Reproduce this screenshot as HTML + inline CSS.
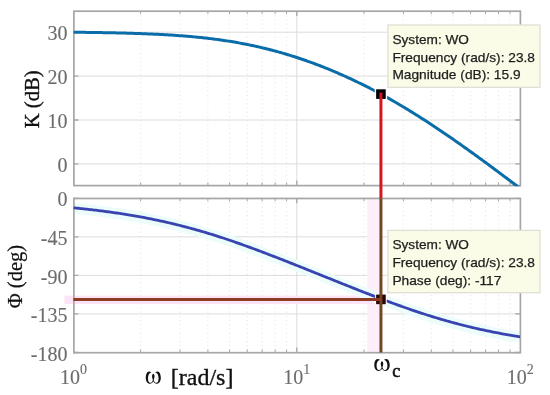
<!DOCTYPE html>
<html><head><meta charset="utf-8"><style>
html,body{margin:0;padding:0;background:#fff;}
body{width:550px;height:395px;overflow:hidden;}
svg{display:block;will-change:transform;}
.sa{font-family:"Liberation Sans",sans-serif;}
.se{font-family:"Liberation Serif",serif;}

</style></head><body>
<svg width="550" height="395" viewBox="0 0 550 395">
<rect width="550" height="395" fill="#fff"/>
<defs><clipPath id="cu"><rect x="73.4" y="11" width="447.8" height="175.3"/></clipPath>
<clipPath id="cl"><rect x="73.4" y="198.3" width="446.8" height="154.2"/></clipPath></defs>
<line x1="140.65" y1="11" x2="140.65" y2="185.4" stroke="#e2e2e2" stroke-width="1" stroke-dasharray="1,3.2"/>
<line x1="179.99" y1="11" x2="179.99" y2="185.4" stroke="#e2e2e2" stroke-width="1" stroke-dasharray="1,3.2"/>
<line x1="207.90" y1="11" x2="207.90" y2="185.4" stroke="#e2e2e2" stroke-width="1" stroke-dasharray="1,3.2"/>
<line x1="229.55" y1="11" x2="229.55" y2="185.4" stroke="#e2e2e2" stroke-width="1" stroke-dasharray="1,3.2"/>
<line x1="247.24" y1="11" x2="247.24" y2="185.4" stroke="#e2e2e2" stroke-width="1" stroke-dasharray="1,3.2"/>
<line x1="262.19" y1="11" x2="262.19" y2="185.4" stroke="#e2e2e2" stroke-width="1" stroke-dasharray="1,3.2"/>
<line x1="275.15" y1="11" x2="275.15" y2="185.4" stroke="#e2e2e2" stroke-width="1" stroke-dasharray="1,3.2"/>
<line x1="286.58" y1="11" x2="286.58" y2="185.4" stroke="#e2e2e2" stroke-width="1" stroke-dasharray="1,3.2"/>
<line x1="364.05" y1="11" x2="364.05" y2="185.4" stroke="#e2e2e2" stroke-width="1" stroke-dasharray="1,3.2"/>
<line x1="403.39" y1="11" x2="403.39" y2="185.4" stroke="#e2e2e2" stroke-width="1" stroke-dasharray="1,3.2"/>
<line x1="431.30" y1="11" x2="431.30" y2="185.4" stroke="#e2e2e2" stroke-width="1" stroke-dasharray="1,3.2"/>
<line x1="452.95" y1="11" x2="452.95" y2="185.4" stroke="#e2e2e2" stroke-width="1" stroke-dasharray="1,3.2"/>
<line x1="470.64" y1="11" x2="470.64" y2="185.4" stroke="#e2e2e2" stroke-width="1" stroke-dasharray="1,3.2"/>
<line x1="485.59" y1="11" x2="485.59" y2="185.4" stroke="#e2e2e2" stroke-width="1" stroke-dasharray="1,3.2"/>
<line x1="498.55" y1="11" x2="498.55" y2="185.4" stroke="#e2e2e2" stroke-width="1" stroke-dasharray="1,3.2"/>
<line x1="509.98" y1="11" x2="509.98" y2="185.4" stroke="#e2e2e2" stroke-width="1" stroke-dasharray="1,3.2"/>
<line x1="296.80" y1="11" x2="296.80" y2="185.4" stroke="#dcdcdc" stroke-width="1"/>
<line x1="73.4" y1="163.90" x2="520.2" y2="163.90" stroke="#dcdcdc" stroke-width="1"/>
<line x1="73.4" y1="120.00" x2="520.2" y2="120.00" stroke="#dcdcdc" stroke-width="1"/>
<line x1="73.4" y1="76.10" x2="520.2" y2="76.10" stroke="#dcdcdc" stroke-width="1"/>
<line x1="73.4" y1="32.20" x2="520.2" y2="32.20" stroke="#dcdcdc" stroke-width="1"/>
<line x1="140.65" y1="198.3" x2="140.65" y2="352.5" stroke="#e2e2e2" stroke-width="1" stroke-dasharray="1,3.2"/>
<line x1="179.99" y1="198.3" x2="179.99" y2="352.5" stroke="#e2e2e2" stroke-width="1" stroke-dasharray="1,3.2"/>
<line x1="207.90" y1="198.3" x2="207.90" y2="352.5" stroke="#e2e2e2" stroke-width="1" stroke-dasharray="1,3.2"/>
<line x1="229.55" y1="198.3" x2="229.55" y2="352.5" stroke="#e2e2e2" stroke-width="1" stroke-dasharray="1,3.2"/>
<line x1="247.24" y1="198.3" x2="247.24" y2="352.5" stroke="#e2e2e2" stroke-width="1" stroke-dasharray="1,3.2"/>
<line x1="262.19" y1="198.3" x2="262.19" y2="352.5" stroke="#e2e2e2" stroke-width="1" stroke-dasharray="1,3.2"/>
<line x1="275.15" y1="198.3" x2="275.15" y2="352.5" stroke="#e2e2e2" stroke-width="1" stroke-dasharray="1,3.2"/>
<line x1="286.58" y1="198.3" x2="286.58" y2="352.5" stroke="#e2e2e2" stroke-width="1" stroke-dasharray="1,3.2"/>
<line x1="364.05" y1="198.3" x2="364.05" y2="352.5" stroke="#e2e2e2" stroke-width="1" stroke-dasharray="1,3.2"/>
<line x1="403.39" y1="198.3" x2="403.39" y2="352.5" stroke="#e2e2e2" stroke-width="1" stroke-dasharray="1,3.2"/>
<line x1="431.30" y1="198.3" x2="431.30" y2="352.5" stroke="#e2e2e2" stroke-width="1" stroke-dasharray="1,3.2"/>
<line x1="452.95" y1="198.3" x2="452.95" y2="352.5" stroke="#e2e2e2" stroke-width="1" stroke-dasharray="1,3.2"/>
<line x1="470.64" y1="198.3" x2="470.64" y2="352.5" stroke="#e2e2e2" stroke-width="1" stroke-dasharray="1,3.2"/>
<line x1="485.59" y1="198.3" x2="485.59" y2="352.5" stroke="#e2e2e2" stroke-width="1" stroke-dasharray="1,3.2"/>
<line x1="498.55" y1="198.3" x2="498.55" y2="352.5" stroke="#e2e2e2" stroke-width="1" stroke-dasharray="1,3.2"/>
<line x1="509.98" y1="198.3" x2="509.98" y2="352.5" stroke="#e2e2e2" stroke-width="1" stroke-dasharray="1,3.2"/>
<line x1="296.80" y1="198.3" x2="296.80" y2="352.5" stroke="#dcdcdc" stroke-width="1"/>
<line x1="73.4" y1="198.30" x2="520.2" y2="198.30" stroke="#dcdcdc" stroke-width="1"/>
<line x1="73.4" y1="236.85" x2="520.2" y2="236.85" stroke="#dcdcdc" stroke-width="1"/>
<line x1="73.4" y1="275.40" x2="520.2" y2="275.40" stroke="#dcdcdc" stroke-width="1"/>
<line x1="73.4" y1="313.95" x2="520.2" y2="313.95" stroke="#dcdcdc" stroke-width="1"/>
<line x1="73.4" y1="352.50" x2="520.2" y2="352.50" stroke="#dcdcdc" stroke-width="1"/>
<rect x="367.2" y="199.3" width="12.23" height="153.2" fill="#fdeefc"/>
<rect x="64.5" y="295.60" width="316.43" height="8.4" fill="#fce4f6"/>
<polyline points="73.40,207.81 74.89,207.95 76.38,208.10 77.87,208.25 79.36,208.40 80.85,208.55 82.34,208.71 83.83,208.87 85.31,209.03 86.80,209.19 88.29,209.36 89.78,209.53 91.27,209.70 92.76,209.87 94.25,210.04 95.74,210.22 97.23,210.40 98.72,210.59 100.21,210.77 101.70,210.96 103.19,211.15 104.68,211.35 106.17,211.54 107.65,211.74 109.14,211.94 110.63,212.15 112.12,212.36 113.61,212.57 115.10,212.78 116.59,213.00 118.08,213.22 119.57,213.44 121.06,213.67 122.55,213.90 124.04,214.13 125.53,214.37 127.02,214.61 128.51,214.85 129.99,215.10 131.48,215.34 132.97,215.60 134.46,215.85 135.95,216.11 137.44,216.38 138.93,216.64 140.42,216.91 141.91,217.19 143.40,217.46 144.89,217.74 146.38,218.03 147.87,218.32 149.36,218.61 150.85,218.90 152.33,219.20 153.82,219.51 155.31,219.81 156.80,220.12 158.29,220.44 159.78,220.76 161.27,221.08 162.76,221.41 164.25,221.74 165.74,222.07 167.23,222.41 168.72,222.75 170.21,223.10 171.70,223.45 173.19,223.80 174.67,224.16 176.16,224.53 177.65,224.89 179.14,225.26 180.63,225.64 182.12,226.02 183.61,226.40 185.10,226.79 186.59,227.18 188.08,227.58 189.57,227.98 191.06,228.38 192.55,228.79 194.04,229.20 195.53,229.62 197.01,230.04 198.50,230.46 199.99,230.89 201.48,231.32 202.97,231.76 204.46,232.20 205.95,232.64 207.44,233.09 208.93,233.54 210.42,234.00 211.91,234.46 213.40,234.93 214.89,235.39 216.38,235.86 217.87,236.34 219.35,236.82 220.84,237.30 222.33,237.79 223.82,238.28 225.31,238.77 226.80,239.27 228.29,239.77 229.78,240.27 231.27,240.78 232.76,241.29 234.25,241.80 235.74,242.32 237.23,242.84 238.72,243.36 240.21,243.89 241.69,244.41 243.18,244.95 244.67,245.48 246.16,246.02 247.65,246.56 249.14,247.10 250.63,247.64 252.12,248.19 253.61,248.74 255.10,249.29 256.59,249.85 258.08,250.40 259.57,250.96 261.06,251.52 262.55,252.08 264.03,252.65 265.52,253.22 267.01,253.78 268.50,254.35 269.99,254.93 271.48,255.50 272.97,256.07 274.46,256.65 275.95,257.23 277.44,257.81 278.93,258.39 280.42,258.97 281.91,259.55 283.40,260.14 284.89,260.72 286.37,261.31 287.86,261.90 289.35,262.49 290.84,263.08 292.33,263.67 293.82,264.26 295.31,264.85 296.80,265.44 298.29,266.03 299.78,266.63 301.27,267.22 302.76,267.82 304.25,268.41 305.74,269.01 307.23,269.60 308.71,270.20 310.20,270.80 311.69,271.40 313.18,271.99 314.67,272.59 316.16,273.19 317.65,273.79 319.14,274.38 320.63,274.98 322.12,275.58 323.61,276.18 325.10,276.78 326.59,277.38 328.08,277.97 329.57,278.57 331.05,279.17 332.54,279.77 334.03,280.36 335.52,280.96 337.01,281.56 338.50,282.15 339.99,282.75 341.48,283.34 342.97,283.94 344.46,284.53 345.95,285.13 347.44,285.72 348.93,286.31 350.42,286.90 351.91,287.49 353.39,288.08 354.88,288.67 356.37,289.26 357.86,289.85 359.35,290.43 360.84,291.02 362.33,291.60 363.82,292.18 365.31,292.76 366.80,293.34 368.29,293.92 369.78,294.50 371.27,295.08 372.76,295.65 374.25,296.22 375.73,296.79 377.22,297.36 378.71,297.93 380.20,298.49 381.69,299.06 383.18,299.62 384.67,300.18 386.16,300.74 387.65,301.29 389.14,301.84 390.63,302.39 392.12,302.94 393.61,303.49 395.10,304.03 396.59,304.57 398.07,305.11 399.56,305.64 401.05,306.18 402.54,306.71 404.03,307.23 405.52,307.76 407.01,308.28 408.50,308.80 409.99,309.31 411.48,309.82 412.97,310.33 414.46,310.83 415.95,311.34 417.44,311.83 418.93,312.33 420.41,312.82 421.90,313.31 423.39,313.79 424.88,314.27 426.37,314.75 427.86,315.22 429.35,315.69 430.84,316.16 432.33,316.62 433.82,317.08 435.31,317.53 436.80,317.98 438.29,318.43 439.78,318.87 441.27,319.31 442.75,319.74 444.24,320.17 445.73,320.60 447.22,321.02 448.71,321.44 450.20,321.85 451.69,322.26 453.18,322.67 454.67,323.07 456.16,323.46 457.65,323.86 459.14,324.25 460.63,324.63 462.12,325.01 463.61,325.39 465.09,325.76 466.58,326.13 468.07,326.49 469.56,326.85 471.05,327.21 472.54,327.56 474.03,327.91 475.52,328.26 477.01,328.60 478.50,328.93 479.99,329.26 481.48,329.59 482.97,329.92 484.46,330.24 485.95,330.55 487.43,330.86 488.92,331.17 490.41,331.48 491.90,331.78 493.39,332.08 494.88,332.37 496.37,332.66 497.86,332.94 499.35,333.23 500.84,333.51 502.33,333.78 503.82,334.05 505.31,334.32 506.80,334.58 508.29,334.84 509.77,335.10 511.26,335.36 512.75,335.61 514.24,335.85 515.73,336.10 517.22,336.34 518.71,336.58 520.20,336.81" fill="none" stroke="#ebfcfb" stroke-width="11" transform="translate(0,0.5)"/>
<path d="M140.65 11 v3 M140.65 185.4 v-3" stroke="#a6a6a6" stroke-width="1"/>
<path d="M179.99 11 v3 M179.99 185.4 v-3" stroke="#a6a6a6" stroke-width="1"/>
<path d="M207.90 11 v3 M207.90 185.4 v-3" stroke="#a6a6a6" stroke-width="1"/>
<path d="M229.55 11 v3 M229.55 185.4 v-3" stroke="#a6a6a6" stroke-width="1"/>
<path d="M247.24 11 v3 M247.24 185.4 v-3" stroke="#a6a6a6" stroke-width="1"/>
<path d="M262.19 11 v3 M262.19 185.4 v-3" stroke="#a6a6a6" stroke-width="1"/>
<path d="M275.15 11 v3 M275.15 185.4 v-3" stroke="#a6a6a6" stroke-width="1"/>
<path d="M286.58 11 v3 M286.58 185.4 v-3" stroke="#a6a6a6" stroke-width="1"/>
<path d="M364.05 11 v3 M364.05 185.4 v-3" stroke="#a6a6a6" stroke-width="1"/>
<path d="M403.39 11 v3 M403.39 185.4 v-3" stroke="#a6a6a6" stroke-width="1"/>
<path d="M431.30 11 v3 M431.30 185.4 v-3" stroke="#a6a6a6" stroke-width="1"/>
<path d="M452.95 11 v3 M452.95 185.4 v-3" stroke="#a6a6a6" stroke-width="1"/>
<path d="M470.64 11 v3 M470.64 185.4 v-3" stroke="#a6a6a6" stroke-width="1"/>
<path d="M485.59 11 v3 M485.59 185.4 v-3" stroke="#a6a6a6" stroke-width="1"/>
<path d="M498.55 11 v3 M498.55 185.4 v-3" stroke="#a6a6a6" stroke-width="1"/>
<path d="M509.98 11 v3 M509.98 185.4 v-3" stroke="#a6a6a6" stroke-width="1"/>
<path d="M296.80 11 v5 M296.80 185.4 v-5" stroke="#a6a6a6" stroke-width="1.3"/>
<path d="M73.4 163.90 h5 M520.2 163.90 h-5" stroke="#a6a6a6" stroke-width="1.3"/>
<path d="M73.4 120.00 h5 M520.2 120.00 h-5" stroke="#a6a6a6" stroke-width="1.3"/>
<path d="M73.4 76.10 h5 M520.2 76.10 h-5" stroke="#a6a6a6" stroke-width="1.3"/>
<path d="M73.4 32.20 h5 M520.2 32.20 h-5" stroke="#a6a6a6" stroke-width="1.3"/>
<rect x="73.9" y="11.2" width="446.5" height="174.4" fill="none" stroke="#a6a6a6" stroke-width="1.7"/>
<path d="M140.65 198.3 v3 M140.65 352.5 v-3" stroke="#a6a6a6" stroke-width="1"/>
<path d="M179.99 198.3 v3 M179.99 352.5 v-3" stroke="#a6a6a6" stroke-width="1"/>
<path d="M207.90 198.3 v3 M207.90 352.5 v-3" stroke="#a6a6a6" stroke-width="1"/>
<path d="M229.55 198.3 v3 M229.55 352.5 v-3" stroke="#a6a6a6" stroke-width="1"/>
<path d="M247.24 198.3 v3 M247.24 352.5 v-3" stroke="#a6a6a6" stroke-width="1"/>
<path d="M262.19 198.3 v3 M262.19 352.5 v-3" stroke="#a6a6a6" stroke-width="1"/>
<path d="M275.15 198.3 v3 M275.15 352.5 v-3" stroke="#a6a6a6" stroke-width="1"/>
<path d="M286.58 198.3 v3 M286.58 352.5 v-3" stroke="#a6a6a6" stroke-width="1"/>
<path d="M364.05 198.3 v3 M364.05 352.5 v-3" stroke="#a6a6a6" stroke-width="1"/>
<path d="M403.39 198.3 v3 M403.39 352.5 v-3" stroke="#a6a6a6" stroke-width="1"/>
<path d="M431.30 198.3 v3 M431.30 352.5 v-3" stroke="#a6a6a6" stroke-width="1"/>
<path d="M452.95 198.3 v3 M452.95 352.5 v-3" stroke="#a6a6a6" stroke-width="1"/>
<path d="M470.64 198.3 v3 M470.64 352.5 v-3" stroke="#a6a6a6" stroke-width="1"/>
<path d="M485.59 198.3 v3 M485.59 352.5 v-3" stroke="#a6a6a6" stroke-width="1"/>
<path d="M498.55 198.3 v3 M498.55 352.5 v-3" stroke="#a6a6a6" stroke-width="1"/>
<path d="M509.98 198.3 v3 M509.98 352.5 v-3" stroke="#a6a6a6" stroke-width="1"/>
<path d="M296.80 198.3 v5 M296.80 352.5 v-5" stroke="#a6a6a6" stroke-width="1.3"/>
<path d="M73.4 198.30 h5 M520.2 198.30 h-5" stroke="#a6a6a6" stroke-width="1.3"/>
<path d="M73.4 236.85 h5 M520.2 236.85 h-5" stroke="#a6a6a6" stroke-width="1.3"/>
<path d="M73.4 275.40 h5 M520.2 275.40 h-5" stroke="#a6a6a6" stroke-width="1.3"/>
<path d="M73.4 313.95 h5 M520.2 313.95 h-5" stroke="#a6a6a6" stroke-width="1.3"/>
<path d="M73.4 352.50 h5 M520.2 352.50 h-5" stroke="#a6a6a6" stroke-width="1.3"/>
<rect x="73.9" y="198.5" width="446.5" height="154.2" fill="none" stroke="#a6a6a6" stroke-width="1.7"/>
<g clip-path="url(#cu)"><polyline points="73.40,32.23 74.89,32.25 76.38,32.26 77.87,32.28 79.36,32.30 80.85,32.31 82.34,32.33 83.83,32.35 85.31,32.36 86.80,32.38 88.29,32.40 89.78,32.42 91.27,32.44 92.76,32.46 94.25,32.48 95.74,32.51 97.23,32.53 98.72,32.55 100.21,32.58 101.70,32.60 103.19,32.63 104.68,32.65 106.17,32.68 107.65,32.71 109.14,32.74 110.63,32.77 112.12,32.80 113.61,32.83 115.10,32.86 116.59,32.90 118.08,32.93 119.57,32.97 121.06,33.00 122.55,33.04 124.04,33.08 125.53,33.12 127.02,33.16 128.51,33.20 129.99,33.25 131.48,33.29 132.97,33.34 134.46,33.38 135.95,33.43 137.44,33.48 138.93,33.54 140.42,33.59 141.91,33.64 143.40,33.70 144.89,33.76 146.38,33.82 147.87,33.88 149.36,33.94 150.85,34.00 152.33,34.07 153.82,34.14 155.31,34.21 156.80,34.28 158.29,34.35 159.78,34.43 161.27,34.51 162.76,34.59 164.25,34.67 165.74,34.76 167.23,34.84 168.72,34.93 170.21,35.03 171.70,35.12 173.19,35.22 174.67,35.32 176.16,35.42 177.65,35.52 179.14,35.63 180.63,35.74 182.12,35.85 183.61,35.97 185.10,36.09 186.59,36.21 188.08,36.33 189.57,36.46 191.06,36.59 192.55,36.73 194.04,36.87 195.53,37.01 197.01,37.15 198.50,37.30 199.99,37.45 201.48,37.61 202.97,37.77 204.46,37.93 205.95,38.10 207.44,38.27 208.93,38.45 210.42,38.62 211.91,38.81 213.40,38.99 214.89,39.19 216.38,39.38 217.87,39.58 219.35,39.79 220.84,39.99 222.33,40.21 223.82,40.43 225.31,40.65 226.80,40.87 228.29,41.11 229.78,41.34 231.27,41.58 232.76,41.83 234.25,42.08 235.74,42.34 237.23,42.60 238.72,42.87 240.21,43.14 241.69,43.41 243.18,43.69 244.67,43.98 246.16,44.27 247.65,44.57 249.14,44.87 250.63,45.18 252.12,45.49 253.61,45.81 255.10,46.14 256.59,46.47 258.08,46.80 259.57,47.14 261.06,47.49 262.55,47.84 264.03,48.20 265.52,48.56 267.01,48.93 268.50,49.31 269.99,49.69 271.48,50.07 272.97,50.46 274.46,50.86 275.95,51.26 277.44,51.67 278.93,52.09 280.42,52.51 281.91,52.93 283.40,53.36 284.89,53.80 286.37,54.24 287.86,54.69 289.35,55.15 290.84,55.61 292.33,56.07 293.82,56.54 295.31,57.02 296.80,57.50 298.29,57.99 299.78,58.49 301.27,58.99 302.76,59.49 304.25,60.01 305.74,60.52 307.23,61.05 308.71,61.58 310.20,62.11 311.69,62.65 313.18,63.20 314.67,63.75 316.16,64.31 317.65,64.87 319.14,65.44 320.63,66.02 322.12,66.60 323.61,67.18 325.10,67.78 326.59,68.37 328.08,68.98 329.57,69.59 331.05,70.20 332.54,70.82 334.03,71.45 335.52,72.08 337.01,72.72 338.50,73.36 339.99,74.01 341.48,74.67 342.97,75.33 344.46,76.00 345.95,76.67 347.44,77.35 348.93,78.03 350.42,78.72 351.91,79.42 353.39,80.12 354.88,80.82 356.37,81.54 357.86,82.26 359.35,82.98 360.84,83.71 362.33,84.45 363.82,85.19 365.31,85.93 366.80,86.69 368.29,87.45 369.78,88.21 371.27,88.98 372.76,89.76 374.25,90.54 375.73,91.32 377.22,92.12 378.71,92.92 380.20,93.72 381.69,94.53 383.18,95.35 384.67,96.17 386.16,96.99 387.65,97.82 389.14,98.66 390.63,99.51 392.12,100.35 393.61,101.21 395.10,102.07 396.59,102.93 398.07,103.80 399.56,104.68 401.05,105.56 402.54,106.44 404.03,107.34 405.52,108.23 407.01,109.13 408.50,110.04 409.99,110.95 411.48,111.87 412.97,112.79 414.46,113.72 415.95,114.65 417.44,115.58 418.93,116.52 420.41,117.47 421.90,118.42 423.39,119.37 424.88,120.33 426.37,121.30 427.86,122.26 429.35,123.24 430.84,124.21 432.33,125.19 433.82,126.18 435.31,127.17 436.80,128.16 438.29,129.16 439.78,130.16 441.27,131.17 442.75,132.17 444.24,133.19 445.73,134.20 447.22,135.22 448.71,136.25 450.20,137.27 451.69,138.30 453.18,139.34 454.67,140.38 456.16,141.42 457.65,142.46 459.14,143.51 460.63,144.56 462.12,145.61 463.61,146.67 465.09,147.72 466.58,148.79 468.07,149.85 469.56,150.92 471.05,151.99 472.54,153.06 474.03,154.13 475.52,155.21 477.01,156.29 478.50,157.37 479.99,158.46 481.48,159.55 482.97,160.63 484.46,161.73 485.95,162.82 487.43,163.91 488.92,165.01 490.41,166.11 491.90,167.21 493.39,168.32 494.88,169.42 496.37,170.53 497.86,171.64 499.35,172.75 500.84,173.86 502.33,174.97 503.82,176.09 505.31,177.20 506.80,178.32 508.29,179.44 509.77,180.56 511.26,181.69 512.75,182.81 514.24,183.93 515.73,185.06 517.22,186.19 518.71,187.32 520.20,188.45" fill="none" stroke="#0a6ca8" stroke-width="3" stroke-linejoin="round"/></g>
<g clip-path="url(#cl)"><polyline points="73.40,207.81 74.89,207.95 76.38,208.10 77.87,208.25 79.36,208.40 80.85,208.55 82.34,208.71 83.83,208.87 85.31,209.03 86.80,209.19 88.29,209.36 89.78,209.53 91.27,209.70 92.76,209.87 94.25,210.04 95.74,210.22 97.23,210.40 98.72,210.59 100.21,210.77 101.70,210.96 103.19,211.15 104.68,211.35 106.17,211.54 107.65,211.74 109.14,211.94 110.63,212.15 112.12,212.36 113.61,212.57 115.10,212.78 116.59,213.00 118.08,213.22 119.57,213.44 121.06,213.67 122.55,213.90 124.04,214.13 125.53,214.37 127.02,214.61 128.51,214.85 129.99,215.10 131.48,215.34 132.97,215.60 134.46,215.85 135.95,216.11 137.44,216.38 138.93,216.64 140.42,216.91 141.91,217.19 143.40,217.46 144.89,217.74 146.38,218.03 147.87,218.32 149.36,218.61 150.85,218.90 152.33,219.20 153.82,219.51 155.31,219.81 156.80,220.12 158.29,220.44 159.78,220.76 161.27,221.08 162.76,221.41 164.25,221.74 165.74,222.07 167.23,222.41 168.72,222.75 170.21,223.10 171.70,223.45 173.19,223.80 174.67,224.16 176.16,224.53 177.65,224.89 179.14,225.26 180.63,225.64 182.12,226.02 183.61,226.40 185.10,226.79 186.59,227.18 188.08,227.58 189.57,227.98 191.06,228.38 192.55,228.79 194.04,229.20 195.53,229.62 197.01,230.04 198.50,230.46 199.99,230.89 201.48,231.32 202.97,231.76 204.46,232.20 205.95,232.64 207.44,233.09 208.93,233.54 210.42,234.00 211.91,234.46 213.40,234.93 214.89,235.39 216.38,235.86 217.87,236.34 219.35,236.82 220.84,237.30 222.33,237.79 223.82,238.28 225.31,238.77 226.80,239.27 228.29,239.77 229.78,240.27 231.27,240.78 232.76,241.29 234.25,241.80 235.74,242.32 237.23,242.84 238.72,243.36 240.21,243.89 241.69,244.41 243.18,244.95 244.67,245.48 246.16,246.02 247.65,246.56 249.14,247.10 250.63,247.64 252.12,248.19 253.61,248.74 255.10,249.29 256.59,249.85 258.08,250.40 259.57,250.96 261.06,251.52 262.55,252.08 264.03,252.65 265.52,253.22 267.01,253.78 268.50,254.35 269.99,254.93 271.48,255.50 272.97,256.07 274.46,256.65 275.95,257.23 277.44,257.81 278.93,258.39 280.42,258.97 281.91,259.55 283.40,260.14 284.89,260.72 286.37,261.31 287.86,261.90 289.35,262.49 290.84,263.08 292.33,263.67 293.82,264.26 295.31,264.85 296.80,265.44 298.29,266.03 299.78,266.63 301.27,267.22 302.76,267.82 304.25,268.41 305.74,269.01 307.23,269.60 308.71,270.20 310.20,270.80 311.69,271.40 313.18,271.99 314.67,272.59 316.16,273.19 317.65,273.79 319.14,274.38 320.63,274.98 322.12,275.58 323.61,276.18 325.10,276.78 326.59,277.38 328.08,277.97 329.57,278.57 331.05,279.17 332.54,279.77 334.03,280.36 335.52,280.96 337.01,281.56 338.50,282.15 339.99,282.75 341.48,283.34 342.97,283.94 344.46,284.53 345.95,285.13 347.44,285.72 348.93,286.31 350.42,286.90 351.91,287.49 353.39,288.08 354.88,288.67 356.37,289.26 357.86,289.85 359.35,290.43 360.84,291.02 362.33,291.60 363.82,292.18 365.31,292.76 366.80,293.34 368.29,293.92 369.78,294.50 371.27,295.08 372.76,295.65 374.25,296.22 375.73,296.79 377.22,297.36 378.71,297.93 380.20,298.49 381.69,299.06 383.18,299.62 384.67,300.18 386.16,300.74 387.65,301.29 389.14,301.84 390.63,302.39 392.12,302.94 393.61,303.49 395.10,304.03 396.59,304.57 398.07,305.11 399.56,305.64 401.05,306.18 402.54,306.71 404.03,307.23 405.52,307.76 407.01,308.28 408.50,308.80 409.99,309.31 411.48,309.82 412.97,310.33 414.46,310.83 415.95,311.34 417.44,311.83 418.93,312.33 420.41,312.82 421.90,313.31 423.39,313.79 424.88,314.27 426.37,314.75 427.86,315.22 429.35,315.69 430.84,316.16 432.33,316.62 433.82,317.08 435.31,317.53 436.80,317.98 438.29,318.43 439.78,318.87 441.27,319.31 442.75,319.74 444.24,320.17 445.73,320.60 447.22,321.02 448.71,321.44 450.20,321.85 451.69,322.26 453.18,322.67 454.67,323.07 456.16,323.46 457.65,323.86 459.14,324.25 460.63,324.63 462.12,325.01 463.61,325.39 465.09,325.76 466.58,326.13 468.07,326.49 469.56,326.85 471.05,327.21 472.54,327.56 474.03,327.91 475.52,328.26 477.01,328.60 478.50,328.93 479.99,329.26 481.48,329.59 482.97,329.92 484.46,330.24 485.95,330.55 487.43,330.86 488.92,331.17 490.41,331.48 491.90,331.78 493.39,332.08 494.88,332.37 496.37,332.66 497.86,332.94 499.35,333.23 500.84,333.51 502.33,333.78 503.82,334.05 505.31,334.32 506.80,334.58 508.29,334.84 509.77,335.10 511.26,335.36 512.75,335.61 514.24,335.85 515.73,336.10 517.22,336.34 518.71,336.58 520.20,336.81" fill="none" stroke="#3844b0" stroke-width="2.8" stroke-linejoin="round"/></g>
<rect x="374.73" y="87.90" width="12.4" height="12.4" fill="#fff"/>
<rect x="376.13" y="89.30" width="9.6" height="9.6" fill="#000"/>
<line x1="380.93" y1="92.60" x2="380.93" y2="198.30" stroke="#d4161f" stroke-width="3"/>
<rect x="375.13" y="293.60" width="11.6" height="11.6" fill="#fff"/>
<rect x="376.13" y="294.60" width="9.6" height="9.6" fill="#2a0404"/>
<line x1="380.93" y1="198.30" x2="380.93" y2="352.50" stroke="#724620" stroke-width="3"/>
<line x1="73.4" y1="299.40" x2="381.93" y2="299.40" stroke="#8e3b26" stroke-width="3"/>
<rect x="387.9" y="25" width="152" height="62.3" fill="#fbfce8" stroke="#dfdfd6" stroke-width="1.3"/>
<text x="392.4" y="43.8" class="sa" font-size="13" fill="#1e1e1e" stroke="#1e1e1e" stroke-width="0.25" textLength="76.6" lengthAdjust="spacingAndGlyphs">System: WO</text>
<text x="392.4" y="61.6" class="sa" font-size="13" fill="#1e1e1e" stroke="#1e1e1e" stroke-width="0.25" textLength="142.6" lengthAdjust="spacingAndGlyphs">Frequency (rad/s): 23.8</text>
<text x="392.4" y="79.1" class="sa" font-size="13" fill="#1e1e1e" stroke="#1e1e1e" stroke-width="0.25" textLength="128.2" lengthAdjust="spacingAndGlyphs">Magnitude (dB): 15.9</text>
<rect x="387.9" y="230.4" width="152" height="62.3" fill="#fbfce8" stroke="#dfdfd6" stroke-width="1.3"/>
<text x="392.4" y="249.2" class="sa" font-size="13" fill="#1e1e1e" stroke="#1e1e1e" stroke-width="0.25" textLength="76.6" lengthAdjust="spacingAndGlyphs">System: WO</text>
<text x="392.4" y="267" class="sa" font-size="13" fill="#1e1e1e" stroke="#1e1e1e" stroke-width="0.25" textLength="142.6" lengthAdjust="spacingAndGlyphs">Frequency (rad/s): 23.8</text>
<text x="392.4" y="284.5" class="sa" font-size="13" fill="#1e1e1e" stroke="#1e1e1e" stroke-width="0.25" textLength="109" lengthAdjust="spacingAndGlyphs">Phase (deg): -117</text>
<text x="67.4" y="172" class="se" font-size="20" fill="#6c6c6c" stroke="#6c6c6c" stroke-width="0.12" text-anchor="end">0</text>
<text x="67.4" y="128.1" class="se" font-size="20" fill="#6c6c6c" stroke="#6c6c6c" stroke-width="0.12" text-anchor="end">10</text>
<text x="67.4" y="84.2" class="se" font-size="20" fill="#6c6c6c" stroke="#6c6c6c" stroke-width="0.12" text-anchor="end">20</text>
<text x="67.4" y="40.3" class="se" font-size="20" fill="#6c6c6c" stroke="#6c6c6c" stroke-width="0.12" text-anchor="end">30</text>
<text x="67.4" y="206.4" class="se" font-size="20" fill="#6c6c6c" stroke="#6c6c6c" stroke-width="0.12" text-anchor="end">0</text>
<text x="67.4" y="244.95" class="se" font-size="20" fill="#6c6c6c" stroke="#6c6c6c" stroke-width="0.12" text-anchor="end">-45</text>
<text x="67.4" y="283.5" class="se" font-size="20" fill="#6c6c6c" stroke="#6c6c6c" stroke-width="0.12" text-anchor="end">-90</text>
<text x="67.4" y="322.05" class="se" font-size="20" fill="#6c6c6c" stroke="#6c6c6c" stroke-width="0.12" text-anchor="end">-135</text>
<text x="67.4" y="360.6" class="se" font-size="20" fill="#6c6c6c" stroke="#6c6c6c" stroke-width="0.12" text-anchor="end">-180</text>
<text x="73.4" y="384" class="se" font-size="20" fill="#6c6c6c" stroke="#6c6c6c" stroke-width="0.12" text-anchor="middle">10<tspan font-size="14" dy="-10">0</tspan></text>
<text x="296.8" y="384" class="se" font-size="20" fill="#6c6c6c" stroke="#6c6c6c" stroke-width="0.12" text-anchor="middle">10<tspan font-size="14" dy="-10">1</tspan></text>
<text x="520.2" y="384" class="se" font-size="20" fill="#6c6c6c" stroke="#6c6c6c" stroke-width="0.12" text-anchor="middle">10<tspan font-size="14" dy="-10">2</tspan></text>
<text transform="translate(38.6,99.3) rotate(-90)" class="se" font-size="20" fill="#111" stroke="#111" stroke-width="0.35" text-anchor="middle" textLength="58" lengthAdjust="spacingAndGlyphs">K (dB)</text>
<text transform="translate(21.6,276.6) rotate(-90)" class="se" font-size="20" fill="#111" stroke="#111" stroke-width="0.2" text-anchor="middle" textLength="63.4" lengthAdjust="spacingAndGlyphs">&#934; (deg)</text>
<path d="M5.8,0.7 C4.9,0.2 4.1,0 3.4,0 C1.2,0 0,3 0,6.3 C0,9.6 1.8,12 4.2,12 C5.9,12 7.0,10.9 7.75,9.8 C8.5,10.9 9.6,12 11.3,12 C13.7,12 15.5,9.6 15.5,6.3 C15.5,3 14.3,0 12.1,0 C11.4,0 10.6,0.2 9.7,0.7 C11.9,1.3 13.2,3.2 13.2,6.5 C13.2,9.4 12.3,11.0 11.0,11.0 C9.9,11.0 8.6,10.0 8.2,8.4 C8.6,6.8 9.2,5.2 9.0,4.2 C8.8,3.0 8.2,2.2 7.75,2.2 C7.3,2.2 6.7,3.0 6.5,4.2 C6.3,5.2 6.9,6.8 7.3,8.4 C6.9,10.0 5.6,11.0 4.5,11.0 C3.2,11.0 2.3,9.4 2.3,6.5 C2.3,3.2 3.6,1.3 5.8,0.7 Z" transform="translate(145.8,371.6) scale(0.967742,1.01667)" fill="#111"/>
<text x="170.8" y="384.6" class="se" font-size="24" fill="#111" stroke="#111" stroke-width="0.35">[rad/s]</text>
<path d="M5.8,0.7 C4.9,0.2 4.1,0 3.4,0 C1.2,0 0,3 0,6.3 C0,9.6 1.8,12 4.2,12 C5.9,12 7.0,10.9 7.75,9.8 C8.5,10.9 9.6,12 11.3,12 C13.7,12 15.5,9.6 15.5,6.3 C15.5,3 14.3,0 12.1,0 C11.4,0 10.6,0.2 9.7,0.7 C11.9,1.3 13.2,3.2 13.2,6.5 C13.2,9.4 12.3,11.0 11.0,11.0 C9.9,11.0 8.6,10.0 8.2,8.4 C8.6,6.8 9.2,5.2 9.0,4.2 C8.8,3.0 8.2,2.2 7.75,2.2 C7.3,2.2 6.7,3.0 6.5,4.2 C6.3,5.2 6.9,6.8 7.3,8.4 C6.9,10.0 5.6,11.0 4.5,11.0 C3.2,11.0 2.3,9.4 2.3,6.5 C2.3,3.2 3.6,1.3 5.8,0.7 Z" transform="translate(374.3,359) scale(0.993548,1)" fill="#111"/>
<text x="392.3" y="376.8" class="se" font-size="18" fill="#111" stroke="#111" stroke-width="0.6">c</text>
</svg>
</body></html>
